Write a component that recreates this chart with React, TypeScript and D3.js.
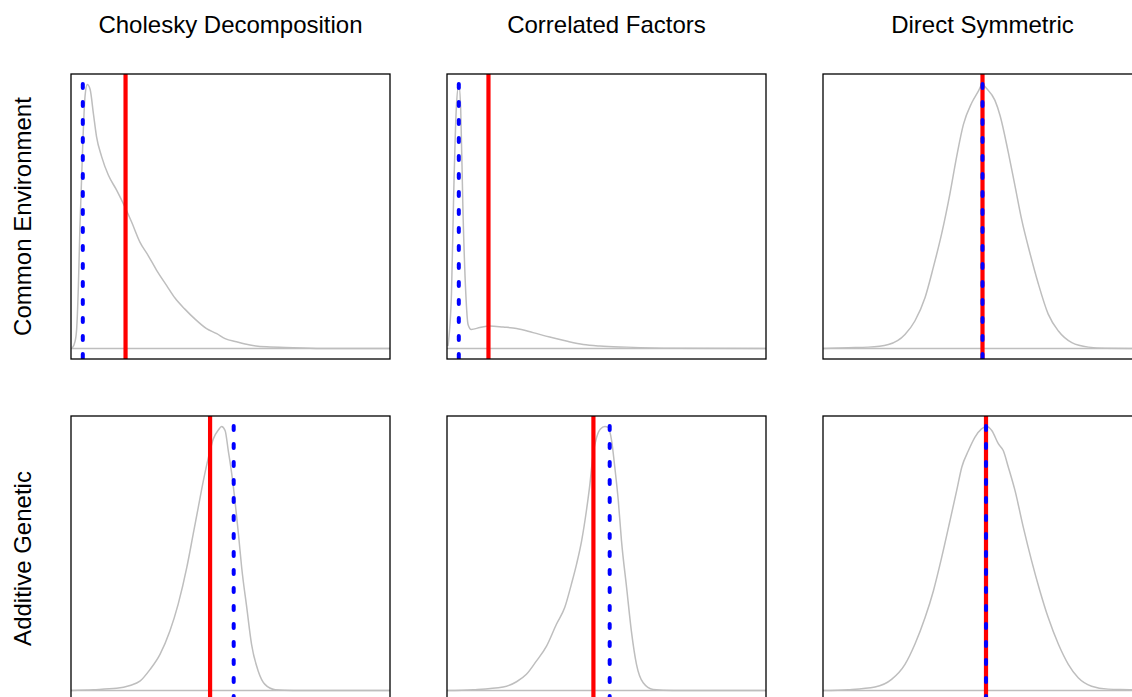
import React from 'react';
import * as d3 from 'd3';

// column / row labels
const columnTitles = ['Cholesky Decomposition', 'Correlated Factors', 'Direct Symmetric'];
const rowLabels = ['Common Environment', 'Additive Genetic'];

// posterior densities, x on the panel's scale (0..1), density relative to peak
const cholCommon: [number, number][] = [
  [0.003, 0], [0.013, 0.028], [0.018, 0.079], [0.023, 0.231], [0.028, 0.46], [0.037, 0.778],
  [0.044, 0.956], [0.051, 1.0], [0.06, 0.981], [0.07, 0.892], [0.08, 0.803], [0.096, 0.727],
  [0.117, 0.657], [0.143, 0.6], [0.169, 0.536], [0.19, 0.479], [0.216, 0.403], [0.242, 0.352],
  [0.269, 0.295], [0.3, 0.238], [0.326, 0.191], [0.357, 0.149], [0.389, 0.111], [0.425, 0.075],
  [0.457, 0.056], [0.483, 0.037], [0.519, 0.025], [0.561, 0.013], [0.613, 0.006], [0.697, 0.003],
  [0.801, 0], [1.0, 0],
];
const corrCommon: [number, number][] = [
  [0.003, 0.009], [0.014, 0.206], [0.021, 0.587], [0.029, 0.905], [0.037, 1.0], [0.043, 0.905],
  [0.05, 0.524], [0.059, 0.206], [0.066, 0.091], [0.076, 0.072], [0.103, 0.079], [0.134, 0.085],
  [0.176, 0.081], [0.218, 0.076], [0.27, 0.06], [0.322, 0.043], [0.374, 0.028], [0.427, 0.015],
  [0.479, 0.009], [0.563, 0.005], [0.709, 0.001], [1.0, 0],
];
const directCommon: [number, number][] = [
  [0, 0], [0.079, 0.003], [0.142, 0.005], [0.205, 0.015], [0.257, 0.053], [0.288, 0.104],
  [0.32, 0.193], [0.346, 0.308], [0.372, 0.435], [0.398, 0.587], [0.419, 0.727], [0.44, 0.848],
  [0.466, 0.93], [0.487, 0.975], [0.499, 1.0], [0.513, 0.985], [0.539, 0.94], [0.555, 0.883],
  [0.581, 0.742], [0.602, 0.615], [0.623, 0.487], [0.649, 0.36], [0.675, 0.245], [0.706, 0.13],
  [0.738, 0.066], [0.78, 0.022], [0.832, 0.005], [0.884, 0.001], [1.0, 0],
];
const cholGenetic: [number, number][] = [
  [0, 0], [0.07, 0.003], [0.143, 0.008], [0.185, 0.019], [0.216, 0.035], [0.248, 0.08],
  [0.279, 0.137], [0.31, 0.225], [0.336, 0.327], [0.363, 0.466], [0.383, 0.592], [0.399, 0.694],
  [0.415, 0.795], [0.431, 0.884], [0.446, 0.953], [0.462, 0.987], [0.472, 1.0], [0.483, 0.985],
  [0.493, 0.909], [0.504, 0.82], [0.514, 0.719], [0.525, 0.592], [0.535, 0.466], [0.551, 0.314],
  [0.566, 0.175], [0.587, 0.073], [0.608, 0.023], [0.64, 0.003], [0.697, 0], [1.0, 0],
];
const corrGenetic: [number, number][] = [
  [0, 0], [0.082, 0.003], [0.176, 0.013], [0.218, 0.033], [0.249, 0.061], [0.28, 0.111],
  [0.312, 0.168], [0.343, 0.251], [0.369, 0.314], [0.39, 0.403], [0.406, 0.478], [0.422, 0.567],
  [0.437, 0.681], [0.448, 0.782], [0.458, 0.896], [0.469, 0.959], [0.481, 0.991], [0.495, 1.0],
  [0.505, 0.997], [0.516, 0.947], [0.526, 0.846], [0.537, 0.719], [0.547, 0.567], [0.563, 0.39],
  [0.578, 0.225], [0.594, 0.099], [0.615, 0.029], [0.646, 0.004], [0.709, 0], [1.0, 0],
];
const directGenetic: [number, number][] = [
  [0, 0], [0.079, 0.003], [0.163, 0.013], [0.215, 0.042], [0.257, 0.099], [0.288, 0.175],
  [0.32, 0.276], [0.346, 0.377], [0.372, 0.504], [0.398, 0.643], [0.419, 0.757], [0.435, 0.846],
  [0.456, 0.909], [0.476, 0.959], [0.497, 0.991], [0.513, 1.0], [0.529, 0.985], [0.55, 0.934],
  [0.565, 0.909], [0.581, 0.846], [0.602, 0.757], [0.628, 0.618], [0.654, 0.491], [0.68, 0.377],
  [0.706, 0.276], [0.738, 0.175], [0.769, 0.099], [0.8, 0.048], [0.842, 0.016], [0.894, 0.005],
  [0.969, 0.003], [1.0, 0],
];

// true value (red, solid) and posterior mode (blue, dotted)
const trueValues = [0.171, 0.13, 0.5, 0.436, 0.459, 0.511];
const estimates = [0.037, 0.037, 0.5, 0.51, 0.51, 0.511];

const densities = [cholCommon, corrCommon, directCommon, cholGenetic, corrGenetic, directGenetic];

const W = 1132;
const H = 697;
const colLeft = [71, 447, 823];
const rowTop = [74, 416];
const panelW = 319;
const panelH = 285;
const font = 'Liberation Sans, Arial, Helvetica, sans-serif';

function Panel({ i }: { i: number }) {
  const row = Math.floor(i / 3);
  const col = i % 3;
  const left = colLeft[col];
  const top = rowTop[row];
  const data = densities[i];
  const ymax = d3.max(data, d => d[1]) as number;

  const x = d3.scaleLinear().domain([0, 1]).range([left, left + panelW]);
  const y = d3.scaleLinear()
    .domain([-0.04 * ymax, 1.04 * ymax])
    .range([top + panelH, top]);

  const line = d3.line<[number, number]>()
    .x(d => x(d[0]))
    .y(d => y(d[1]))
    .curve(d3.curveMonotoneX);

  const clipId = `clip${i}`;
  return (
    <g>
      <clipPath id={clipId}>
        <rect x={left} y={top} width={panelW} height={panelH} />
      </clipPath>
      <g clipPath={`url(#${clipId})`}>
        <line x1={x(0)} x2={x(1)} y1={y(0)} y2={y(0)} stroke="#bebebe" strokeWidth={1.5} />
        <path d={line(data) ?? ''} fill="none" stroke="#bebebe" strokeWidth={1.5} />
        <line x1={x(trueValues[i])} x2={x(trueValues[i])} y1={top} y2={top + panelH}
          stroke="#ff0000" strokeWidth={4.2} />
        <line x1={x(estimates[i])} x2={x(estimates[i])} y1={top} y2={top + panelH}
          stroke="#0000ff" strokeWidth={4} strokeLinecap="round"
          strokeDasharray="4 14" strokeDashoffset={-10} />
      </g>
      <rect x={left} y={top} width={panelW} height={panelH} fill="none" stroke="#000" strokeWidth={1.3} />
    </g>
  );
}

export default function App() {
  return (
    <svg width={W} height={H} style={{ position: 'absolute', left: 0, top: 0, background: '#fff' }}>
      <rect width={W} height={H} fill="#fff" />
      {columnTitles.map((t, c) => (
        <text key={t} x={colLeft[c] + panelW / 2} y={33} textAnchor="middle"
          fontFamily={font} fontSize={24} fill="#000">{t}</text>
      ))}
      {rowLabels.map((t, r) => (
        <text key={t} transform={`translate(31,${rowTop[r] + panelH / 2}) rotate(-90)`}
          textAnchor="middle" fontFamily={font} fontSize={24} fill="#000">{t}</text>
      ))}
      {densities.map((_, i) => <Panel key={i} i={i} />)}
    </svg>
  );
}
